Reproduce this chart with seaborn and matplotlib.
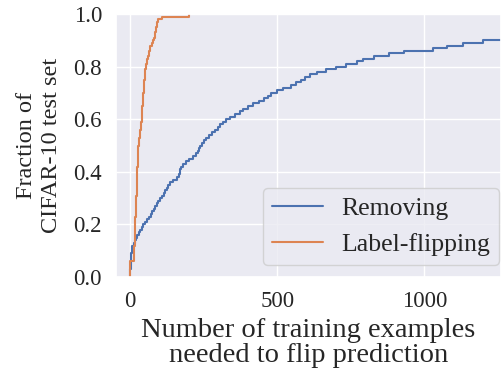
import matplotlib
matplotlib.use("Agg")
import matplotlib.pyplot as plt
import seaborn as sns
import pandas as pd

# Quantile readings (each value = one test example) for each method
removing = [1, 1, 1, 2, 2, 2, 3, 3, 4, 5,
            5, 8, 12, 16, 20, 25, 30, 35, 40, 45,
            52, 59, 64, 70, 75, 80, 85, 90, 96, 102,
            108, 114, 119, 124, 130, 135, 145, 158, 166, 168,
            171, 174, 180, 190, 200, 212, 225, 230, 234, 238,
            245, 252, 259, 268, 278, 288, 297, 306, 315, 325,
            340, 358, 372, 385, 400, 418, 437, 455, 468, 480,
            500, 520, 545, 565, 582, 595, 610, 635, 665, 700,
            735, 770, 790, 830, 880, 930, 1030, 1075, 1130, 1200,
            1290, 1400, 1550, 1700, 1900, 2150, 2500, 3000, 3600, 4500]
label_flipping = [1, 1, 1, 1, 1, 1, 12, 12, 13, 13,
                  14, 14, 15, 15, 15, 16, 16, 17, 17, 17,
                  18, 18, 18, 19, 19, 19, 20, 20, 21, 21,
                  21, 22, 22, 22, 23, 23, 23, 24, 24, 24,
                  25, 25, 26, 26, 26, 27, 27, 27, 28, 28,
                  29, 30, 31, 32, 33, 34, 36, 37, 38, 39,
                  40, 41, 41, 42, 42, 43, 43, 44, 44, 45,
                  46, 46, 47, 47, 48, 49, 50, 50, 51, 53,
                  55, 57, 59, 61, 63, 65, 67, 69, 73, 78,
                  81, 83, 85, 87, 89, 91, 92, 95, 110, 200]
series_names = ["Removing", "Label-flipping"]
x_ticks = [0, 500, 1000]
y_ticks = [0.0, 0.2, 0.4, 0.6, 0.8, 1.0]

df = pd.DataFrame({
    "value": removing + label_flipping,
    "method": [series_names[0]] * len(removing) + [series_names[1]] * len(label_flipping),
})

sns.set_theme(style="darkgrid")
plt.rcParams["font.family"] = ["Liberation Serif", "DejaVu Serif"]

fig = plt.figure(figsize=(5.01, 3.77), dpi=100)
ax = fig.add_axes([0.2315, 0.265, 0.7685, 0.698])
palette = sns.color_palette("deep")
for i, name in enumerate(series_names):
    sns.ecdfplot(data=df[df["method"] == name], x="value", ax=ax,
                 color=palette[i], label=name, linewidth=1.5)

ax.set_xlim(-48, 1260)
ax.set_ylim(0, 1)
ax.set_xticks(x_ticks)
ax.set_yticks(y_ticks)
ax.tick_params(labelsize=16.5, pad=4)
ax.set_xlabel("Number of training examples\nneeded to flip prediction", fontsize=20.5,
              linespacing=1.0, labelpad=4)
ax.set_ylabel("Fraction of\nCIFAR-10 test set", fontsize=17.5, linespacing=1.3, labelpad=8)
ax.legend(loc="lower right", bbox_to_anchor=(0.995, 0.046), borderaxespad=0,
          fontsize=18.5, labelspacing=0.5, handlelength=2.0, handletextpad=0.7,
          borderpad=0.35)
fig.savefig("out.png", dpi=100)
